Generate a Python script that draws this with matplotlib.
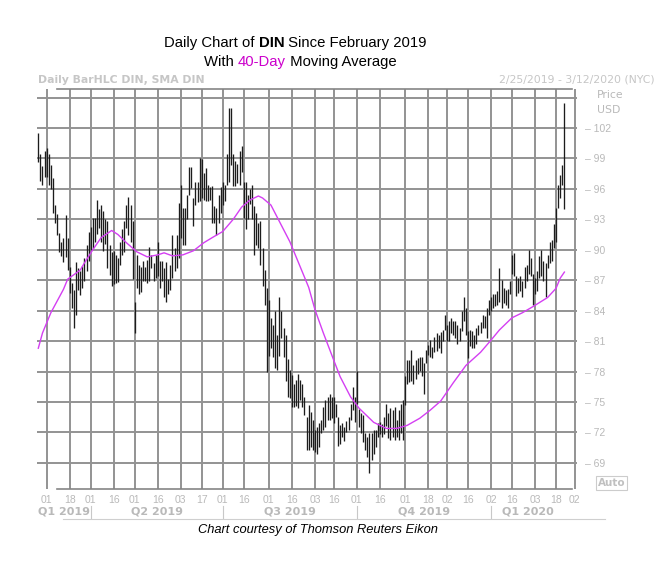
import matplotlib.pyplot as plt
import numpy as np
import pandas as pd
from matplotlib.lines import Line2D
from matplotlib.transforms import blended_transform_factory

# daily high / low of DIN, one value per trading day from 2/25/2019
highs = [101.5, 99.4, 98.3, 99.7, 100.0, 99.4, 98.4, 97.1, 94.4, 93.5,
         91.7, 90.8, 91.2, 93.4, 91.2, 88.3, 86.7, 86.0, 88.8, 88.2,
         87.9, 88.4, 89.2, 90.5, 91.8, 92.2, 93.1, 93.1, 94.9, 94.0,
         94.4, 93.8, 93.0, 92.8, 90.5, 89.8, 89.9, 89.5, 89.2, 90.8,
         92.0, 92.8, 94.4, 95.2, 94.4, 92.8, 84.9, 89.5, 88.5, 88.3,
         88.9, 88.3, 89.0, 90.3, 89.5, 88.7, 89.5, 90.8, 88.9, 88.9,
         88.2, 88.8, 87.1, 88.5, 91.5, 90.2, 91.5, 94.6, 96.4, 94.1,
         94.1, 95.4, 98.2, 98.2, 95.1, 96.7, 96.7, 99.0, 98.9, 97.6,
         98.1, 96.4, 96.2, 96.3, 94.3, 94.1, 95.4, 96.2, 96.7, 96.4,
         99.4, 104.0, 104.0, 99.4, 98.7, 98.5, 99.7, 100.2, 96.7, 96.7,
         95.4, 96.0, 96.4, 94.3, 93.6, 92.6, 92.8, 90.2, 88.0, 86.2,
         85.1, 83.3, 82.6, 84.0, 81.6, 85.3, 84.0, 82.3, 81.6, 79.2,
         78.2, 77.7, 76.8, 77.2, 77.8, 77.2, 76.8, 75.5, 73.5, 74.7,
         74.0, 73.2, 72.2, 72.5, 72.9, 73.2, 74.5, 75.2, 75.5, 75.8,
         75.5, 75.5, 74.8, 73.5, 72.7, 72.9, 72.5, 73.1, 73.5, 74.8,
         76.5, 75.5, 78.1, 74.3, 73.9, 73.7, 71.9, 71.6, 71.9, 71.9,
         72.2, 72.2, 72.9, 73.0, 72.8, 73.5, 74.8, 73.9, 74.4, 74.2,
         74.5, 73.2, 74.2, 74.8, 75.2, 77.6, 79.1, 79.1, 80.1, 78.6,
         79.1, 79.3, 79.4, 79.4, 78.8, 80.1, 80.6, 81.1, 80.4, 81.4,
         81.8, 81.6, 81.9, 82.1, 83.6, 82.6, 83.0, 83.3, 83.0, 83.0,
         82.6, 82.3, 84.0, 85.3, 84.3, 82.0, 82.1, 82.0, 81.6, 82.3,
         82.6, 82.9, 83.6, 83.5, 84.3, 85.1, 85.3, 85.6, 85.6, 85.9,
         88.2, 87.0, 86.2, 86.0, 86.1, 86.9, 89.5, 89.7, 87.4, 87.2,
         87.4, 86.9, 88.3, 88.5, 90.0, 89.2, 87.6, 87.2, 87.9, 89.4,
         90.0, 88.9, 88.7, 89.5, 90.8, 91.0, 92.5, 94.1, 96.4, 97.4,
         98.4, 104.5]
lows = [98.6, 96.8, 96.4, 97.2, 97.2, 96.4, 96.0, 93.6, 92.6, 91.5,
        89.8, 89.4, 88.8, 89.3, 88.0, 85.7, 84.3, 82.3, 83.6, 86.0,
        85.5, 86.2, 86.9, 87.9, 88.9, 90.0, 90.2, 90.8, 91.6, 92.1,
        90.8, 89.9, 90.6, 88.2, 87.5, 86.4, 86.6, 86.7, 86.8, 88.5,
        89.5, 89.8, 92.1, 91.5, 90.8, 87.1, 81.8, 86.2, 85.6, 85.8,
        86.9, 86.9, 86.7, 86.9, 88.2, 86.9, 87.2, 87.4, 86.2, 86.9,
        85.3, 84.9, 85.6, 86.0, 87.2, 87.9, 88.2, 89.2, 91.2, 90.5,
        90.5, 93.0, 95.4, 96.1, 92.3, 94.4, 94.7, 94.8, 95.1, 94.9,
        94.8, 94.8, 94.9, 92.6, 92.6, 91.5, 92.6, 93.6, 94.4, 94.8,
        96.4, 96.7, 98.4, 96.3, 96.3, 96.6, 96.4, 97.7, 93.1, 92.0,
        93.0, 94.5, 93.0, 89.5, 90.5, 90.2, 88.5, 86.4, 84.6, 78.0,
        79.5, 80.3, 79.4, 78.4, 78.2, 79.5, 81.3, 79.4, 77.1, 75.5,
        75.4, 74.5, 74.5, 74.6, 74.4, 75.2, 74.5, 73.7, 70.3, 70.3,
        70.6, 70.3, 70.1, 69.9, 70.6, 71.9, 72.2, 72.5, 73.2, 73.2,
        73.4, 72.9, 73.5, 70.7, 70.9, 71.6, 71.2, 72.0, 72.2, 73.2,
        74.2, 73.0, 74.8, 72.5, 71.9, 71.1, 70.3, 69.6, 68.0, 69.3,
        69.9, 70.6, 71.6, 71.8, 71.6, 71.8, 72.6, 71.5, 71.3, 71.6,
        71.3, 71.6, 71.3, 71.9, 71.3, 74.7, 76.8, 77.0, 77.1, 76.8,
        77.3, 77.8, 78.1, 77.6, 75.8, 78.8, 79.6, 79.4, 79.3, 79.9,
        80.0, 80.3, 79.8, 81.0, 82.1, 81.0, 81.0, 81.8, 81.6, 81.3,
        80.7, 81.0, 82.0, 83.0, 81.6, 79.3, 80.5, 80.3, 80.3, 80.7,
        81.6, 81.8, 82.3, 82.3, 81.3, 83.6, 84.0, 84.3, 84.5, 84.6,
        84.9, 84.3, 84.8, 84.6, 84.3, 85.6, 87.6, 87.4, 85.4, 85.7,
        85.9, 85.3, 86.2, 86.9, 87.6, 87.4, 84.6, 85.6, 85.9, 87.2,
        87.4, 86.9, 85.3, 88.2, 88.7, 88.9, 90.2, 90.8, 94.1, 95.1,
        96.4, 94.0]

# 40-day simple moving average, read at bar positions
sma_idx = [0, 2, 6, 12, 14, 20, 22, 26, 30, 35, 38, 42, 47, 52, 57, 60,
           64, 69, 74, 79, 83, 88, 93, 97, 101, 105, 107, 111, 115, 120,
           125, 129, 132, 136, 141, 144, 149, 153, 160, 166, 171, 176,
           182, 187, 192, 198, 204, 211, 216, 220, 226, 231, 236, 243,
           247, 249, 251]
sma_val = [80.3, 81.8, 83.8, 86.1, 87.1, 88.0, 88.7, 90.0, 91.2, 91.9,
           91.5, 90.7, 89.8, 89.3, 89.5, 89.7, 89.4, 89.5, 89.9, 90.7,
           91.2, 91.8, 93.0, 94.2, 94.9, 95.3, 95.1, 94.4, 92.8, 90.8,
           88.3, 86.3, 84.1, 81.8, 79.1, 77.5, 75.5, 74.4, 73.0, 72.4,
           72.4, 72.7, 73.4, 74.2, 75.1, 76.9, 78.6, 79.9, 81.1, 82.1,
           83.3, 83.8, 84.4, 85.3, 86.2, 87.2, 87.8]

holidays = ['2019-04-19', '2019-05-27', '2019-07-04', '2019-09-02',
            '2019-11-28', '2019-12-25', '2020-01-01', '2020-01-20',
            '2020-02-17']
tick_dates = ['2019-03-01', '2019-03-18', '2019-04-01', '2019-04-16',
              '2019-05-01', '2019-05-16', '2019-06-03', '2019-06-17',
              '2019-07-01', '2019-07-16', '2019-08-01', '2019-08-16',
              '2019-09-03', '2019-09-16', '2019-10-01', '2019-10-16',
              '2019-11-01', '2019-11-18', '2019-12-02', '2019-12-16',
              '2020-01-02', '2020-01-16', '2020-02-03', '2020-02-18',
              '2020-03-02']
quarters = ['Q1 2019', 'Q2 2019', 'Q3 2019', 'Q4 2019', 'Q1 2020']
quarter_starts = ['2019-01-01', '2019-04-01', '2019-07-01', '2019-10-01',
                  '2020-01-01']
price_ticks = [69, 72, 75, 78, 81, 84, 87, 90, 93, 96, 99, 102, 105]

W, H = 669, 569
light = '#b9b9b9'
fig = plt.figure(figsize=(W / 100, H / 100), dpi=100)

def fx(px):
    return px / W

def fy(py):
    return 1 - py / H

ax = fig.add_axes([fx(37), fy(489), fx(576.5) - fx(37), fy(88.7) - fy(489)])

# trading days only, so weekends and holidays leave no gaps
days = pd.bdate_range('2019-02-25', '2020-03-13', freq='C', holidays=holidays)
xpos = np.arange(len(highs))
tick_pos = days.get_indexer(pd.to_datetime(tick_dates))

ax.vlines(xpos, lows, highs, colors='#1c1c1c', lw=0.95, zorder=3)
ax.plot(sma_idx, sma_val, color='#d43ff2', lw=1.0, zorder=4)

ax.set_xlim((37 - 38.3) / 2.096, (576.5 - 38.3) / 2.096)
ax.set_ylim(66.43, 105.87)
ax.set_xticks(tick_pos)
ax.set_xticklabels([d[-2:] for d in tick_dates])
ax.set_yticks(price_ticks)
ax.set_yticklabels(['\u2013 %d' % p if p < 105 else '' for p in price_ticks])
ax.yaxis.tick_right()
ax.tick_params(axis='both', length=0, labelcolor=light, labelsize=7.5)
ax.tick_params(axis='y', pad=6)
ax.tick_params(axis='x', pad=4)
for lab in ax.get_xticklabels() + ax.get_yticklabels():
    lab.set_fontfamily('Liberation Sans')
ax.grid(True, color='#939393', lw=1.4)
ax.set_axisbelow(True)
for s in ax.spines.values():
    s.set_visible(False)

# top and bottom frame lines
for py in (88.7, 489):
    fig.add_artist(Line2D([fx(57), fx(572)], [fy(py), fy(py)],
                          color='#858585', lw=1.2))

# quarter row
tr = blended_transform_factory(ax.transData, fig.transFigure)
q_idx = [max(0, i) for i in days.searchsorted(pd.to_datetime(quarter_starts))]
q_end = q_idx[1:] + [len(highs) - 1]
for name, a, b in zip(quarters, q_idx, q_end):
    ax.text((a + b) / 2, fy(512), name, transform=tr, ha='center', va='center',
            color=light, fontsize=8, fontweight='bold', family='DejaVu Sans')
for a in q_idx[1:]:
    ax.plot([a, a], [fy(506), fy(518)], transform=tr, color='#c8c8c8',
            lw=0.8, clip_on=False)
fig.add_artist(Line2D([fx(63), fx(605)], [fy(518.5), fy(518.5)],
                      color='#cfcfcf', lw=0.8))

# header texts
fig.text(fx(38), fy(80), 'Daily BarHLC DIN, SMA DIN', color='#c6c6c6',
         fontsize=7.8, fontweight='bold', family='DejaVu Sans', va='center')
fig.text(fx(655), fy(80), '2/25/2019 - 3/12/2020 (NYC)', color='#c6c6c6',
         fontsize=7.8, family='DejaVu Sans', va='center', ha='right')
fig.text(fx(597), fy(95), 'Price', color=light, fontsize=7.8,
         family='DejaVu Sans', va='center')
fig.text(fx(597), fy(110), 'USD', color=light, fontsize=7.8,
         family='DejaVu Sans', va='center')
fig.text(fx(598), fy(483), 'Auto', color='#c0c0c0', fontsize=7.5,
         fontweight='bold', family='DejaVu Sans', va='center',
         bbox=dict(boxstyle='square,pad=0.15', fc='white', ec='#cccccc', lw=0.8))

# title, two lines with a bold and a coloured word
parts1 = [('Daily Chart of ', {}), ('DIN', {'fontweight': 'bold'}),
          (' Since February 2019', {})]
parts2 = [('With ', {}), ('40-Day', {'color': '#cc00cc'}),
          (' Moving Average', {})]

for px, py, parts in ((164, 50, parts1), (204, 69, parts2)):
    prev_t = None
    for txt, kw in parts:
        style = dict(fontsize=10.7, family='Liberation Sans', color='black',
                     va='bottom', ha='left')
        style.update(kw)
        if prev_t is None:
            prev_t = fig.text(fx(px), fy(py), txt, **style)
        else:
            prev_t = ax.annotate(txt, xy=(1, 0), xycoords=prev_t,
                                 annotation_clip=False, **style)

fig.text(fx(318), fy(530), 'Chart courtesy of Thomson Reuters Eikon',
         fontsize=9.3, style='italic', family='Liberation Sans', ha='center',
         va='center', color='black')

fig.savefig('out.png', dpi=100, facecolor='white')
